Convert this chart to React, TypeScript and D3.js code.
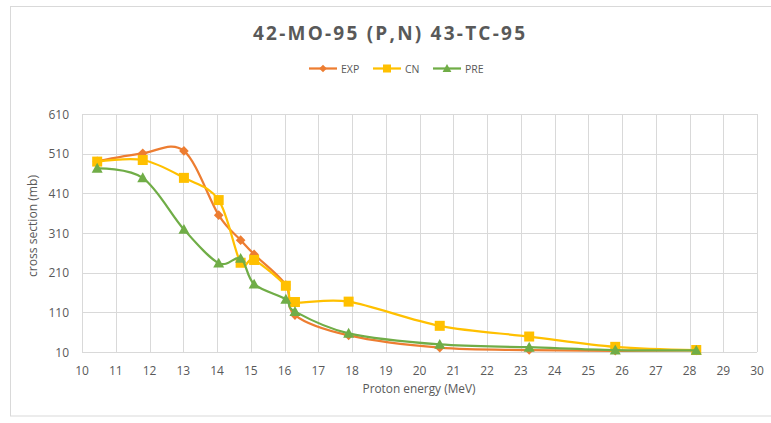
import React from "react";
import * as d3 from "d3";

const energies = [10.45, 11.8, 13.02, 14.05, 14.7, 15.1, 16.04, 16.31, 17.9, 20.6, 23.25, 25.8, 28.2];
const expValues = [491, 511, 517, 355, 292, 256, 179, 103, 52, 21, 15, 13, 14];
const cnValues = [490, 494, 449, 393, 235, 242, 177, 136, 137, 76, 49, 23, 15];
const preValues = [473, 449, 319, 234, 246, 181, 143, 112, 57, 29, 22, 15, 14];
const xTicks = d3.range(10, 31, 1);
const yTicks = [10, 110, 210, 310, 410, 510, 610];

const seriesNames = ["EXP", "CN", "PRE"];
const seriesColors = ["#ED7D31", "#FFC000", "#70AD47"];
const seriesShapes = ["diamond", "square", "triangle"];
const seriesData = [expValues, cnValues, preValues];

const W = 771;
const H = 423;
const margin = { left: 82, right: 14, top: 114, bottom: 71 };

function Marker({ shape, x, y, color, k = 1 }: { shape: string; x: number; y: number; color: string; k?: number }) {
  if (shape === "diamond") {
    const s = 4.8 * k;
    return <path d={`M${x},${y - s}L${x + s},${y}L${x},${y + s}L${x - s},${y}Z`} fill={color} />;
  }
  if (shape === "square") {
    const s = 5 * k;
    return <rect x={x - s} y={y - s} width={2 * s} height={2 * s} fill={color} />;
  }
  const s = 5.5 * k;
  return <path d={`M${x},${y - s}L${x + s},${y + s * 0.8}L${x - s},${y + s * 0.8}Z`} fill={color} />;
}

export default function App() {
  React.useEffect(() => {
    document.body.style.margin = "0";
  }, []);
  const x = d3.scaleLinear().domain([10, 30]).range([margin.left, W - margin.right]);
  const y = d3.scaleLinear().domain([10, 610]).range([H - margin.bottom, margin.top]);
  const line = d3
    .line<[number, number]>()
    .x((d) => x(d[0]))
    .y((d) => y(d[1]))
    .curve(d3.curveCatmullRom.alpha(0));

  const font = "'Open Sans', 'Noto Sans', sans-serif";
  const textColor = "#595959";
  const legendX = [309, 373, 433];

  return (
    <svg width={W} height={H} style={{ display: "block", position: "absolute", left: 0, top: 0, background: "#fff" }}>
      <rect x={10.5} y={6.5} width={W} height={409.5} fill="#fff" stroke="#d9d9d9" strokeWidth={1} />
      <text
        x={389}
        y={40}
        textAnchor="middle"
        fontFamily={font}
        fontWeight="bold"
        fontSize={19}
        fill={textColor}
        textLength={272}
      >
        42-MO-95 (P,N) 43-TC-95
      </text>
      {seriesNames.map((name, i) => (
        <g key={name}>
          <line x1={legendX[i]} x2={legendX[i] + 28} y1={68.5} y2={68.5} stroke={seriesColors[i]} strokeWidth={2.25} />
          <Marker shape={seriesShapes[i]} x={legendX[i] + 14} y={68.5} color={seriesColors[i]} k={0.8} />
          <text x={legendX[i] + 32} y={72.5} fontFamily={font} fontSize={10.5} fill={textColor}>
            {name}
          </text>
        </g>
      ))}
      {yTicks.map((t) => (
        <g key={"y" + t}>
          <line x1={margin.left} x2={W - margin.right} y1={Math.round(y(t)) + 0.5} y2={Math.round(y(t)) + 0.5} stroke="#d9d9d9" strokeWidth={1} />
          <text x={69} y={y(t) + 4.5} textAnchor="end" fontFamily={font} fontSize={12} fill={textColor}>
            {t}
          </text>
        </g>
      ))}
      {xTicks.map((t) => (
        <g key={"x" + t}>
          <line x1={Math.round(x(t)) + 0.5} x2={Math.round(x(t)) + 0.5} y1={y(610)} y2={y(10)} stroke="#d9d9d9" strokeWidth={1} />
          <text x={x(t)} y={374.5} textAnchor="middle" fontFamily={font} fontSize={12} fill={textColor}>
            {t}
          </text>
        </g>
      ))}
      <text
        x={419}
        y={393}
        textAnchor="middle"
        fontFamily={font}
        fontSize={13}
        fill={textColor}
        textLength={113}
        lengthAdjust="spacingAndGlyphs"
      >
        Proton energy (MeV)
      </text>
      <text
        transform="translate(37,226) rotate(-90)"
        textAnchor="middle"
        fontFamily={font}
        fontSize={13}
        fill={textColor}
        textLength={102}
        lengthAdjust="spacingAndGlyphs"
      >
        cross section (mb)
      </text>
      {seriesData.map((vals, i) => {
        const pts = energies.map((e, j) => [e, vals[j]] as [number, number]);
        return (
          <g key={"s" + i}>
            <path d={line(pts) || ""} fill="none" stroke={seriesColors[i]} strokeWidth={2.25} strokeLinejoin="round" />
            {pts.map((p, j) => (
              <Marker key={j} shape={seriesShapes[i]} x={x(p[0])} y={y(p[1])} color={seriesColors[i]} />
            ))}
          </g>
        );
      })}
    </svg>
  );
}
